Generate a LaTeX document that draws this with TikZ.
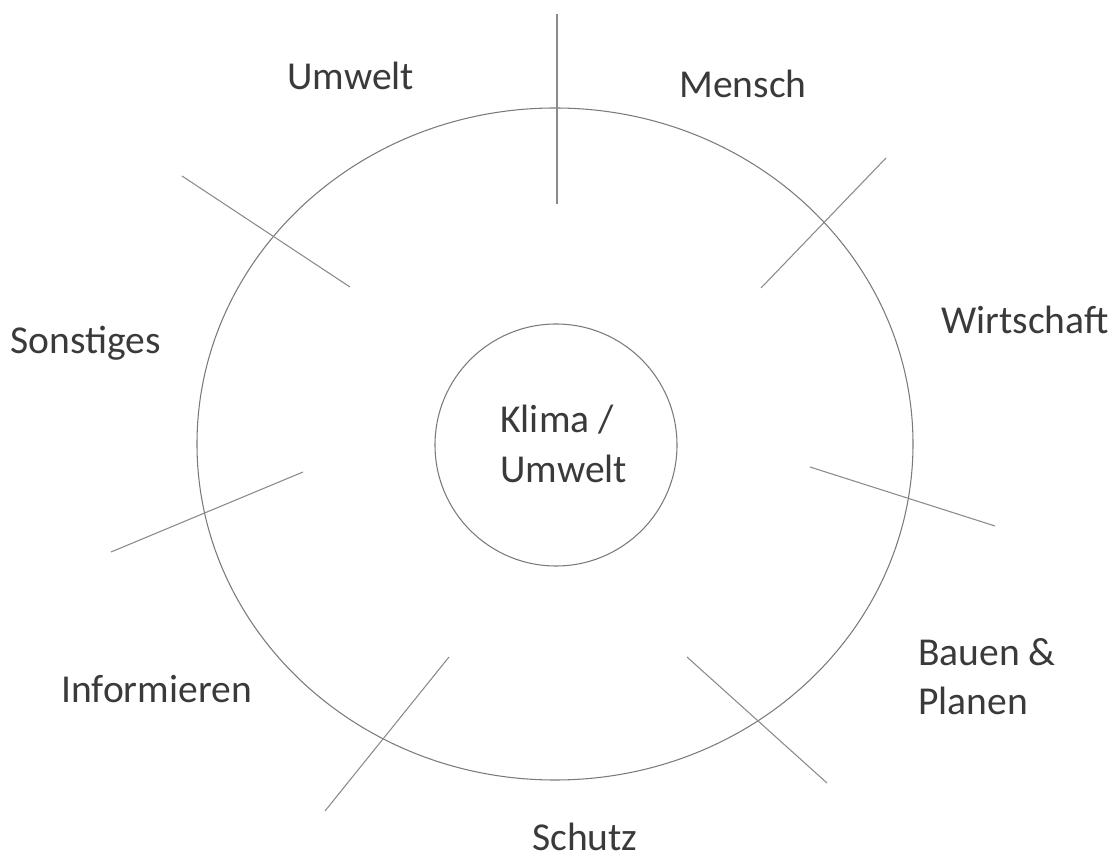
\documentclass[tikz,border=0pt]{standalone}
\usepackage{fontspec}
\setmainfont{Carlito}
\usetikzlibrary{positioning}
\definecolor{RingLine}{HTML}{7a7a7a}
\definecolor{SpokeLine}{HTML}{8a8a8a}
\definecolor{LabelText}{HTML}{3a3a3a}

\begin{document}
\begin{tikzpicture}[x=0.2mm, y=-0.2mm,
                    ring/.style = { color=RingLine, line width=0.6pt },
                    spoke/.style = { color=SpokeLine, line width=0.6pt },
                    lbl/.style = { color=LabelText, inner sep=0pt, anchor=base west,
                                   font=\fontsize{22.5}{28.5}\selectfont },
                    stack/.style = { lbl, align=left }]
  \useasboundingbox (0,0) rectangle (1115,859);

  % rings
  \draw [ring] (555,444) ellipse [x radius=71.6mm, y radius=67.2mm];
  \node [ring, draw, circle, minimum size=48.4mm, inner sep=0pt] (core) at (556,445) {};
  \node [stack] (klima) at (500,483) {Klima /\\Umwelt};

  % spokes
  \draw [spoke] (557, 14) -- (557,204);
  \draw [spoke] (886,158) -- (761,288);
  \draw [spoke] (810,467) -- (995,526);
  \draw [spoke] (687,657) -- (827,783);
  \draw [spoke] (449,657) -- (325,811);
  \draw [spoke] (303,472) -- (111,552);
  \draw [spoke] (182,176) -- (350,287);

  % sectors
  \node [lbl] (umwelt)     at (287, 90)  {Umwelt};
  \node [lbl] (mensch)     at (679, 98)  {Mensch};
  \node [lbl] (wirtschaft) at (941,334)  {Wirtschaft};
  \node [lbl] (bauen)      at (918,666)  {Bauen \&};
  \node [lbl] (planen)     at (918,715)  {Planen};
  \node [lbl] (schutz)     at (532,851)  {Schutz};
  \node [lbl] (informieren) at (61,703)  {Informieren};
  \node [lbl] (sonstiges)  at (10,354)   {Sonstiges};
\end{tikzpicture}
\end{document}
